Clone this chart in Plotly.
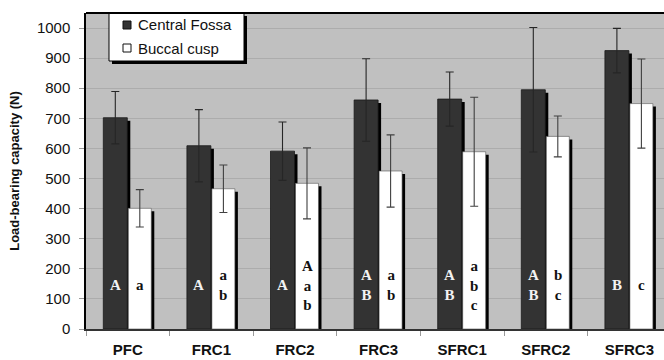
import plotly.graph_objects as go

categories = ["PFC", "FRC1", "FRC2", "FRC3", "SFRC1", "SFRC2", "SFRC3"]
central_fossa = [702, 609, 591, 761, 764, 795, 925]
central_err = [87, 120, 97, 137, 90, 207, 74]
buccal_cusp = [401, 466, 484, 525, 589, 640, 749]
buccal_err = [62, 79, 118, 120, 181, 68, 148]
central_letters = ["A", "A", "A", "A\nB", "A\nB", "A\nB", "B"]
buccal_letters = ["a", "a\nb", "A\na\nb", "a\nb", "a\nb\nc", "b\nc", "c"]
y_ticks = list(range(0, 1001, 100))

W, H = 664, 360
ML, MR, MT, MB = 86, 0, 13, 31
PW, PH = W - ML - MR, H - MT - MB
YMAX = 1050
ncat = len(categories)
cat_px = 83.6
xmax = -0.5 + PW / cat_px

dark_off, dark_w = -0.293, 0.287
white_off, white_w = 0.006, 0.275
sh_dx = 3 / cat_px
sh_dy = 3 * YMAX / PH

fig = go.Figure()

fig.add_trace(go.Bar(x=categories, y=[v - sh_dy for v in central_fossa],
                     offset=dark_off + sh_dx, width=dark_w,
                     marker=dict(color="#000000", line=dict(width=0)),
                     showlegend=False, hoverinfo="skip"))
fig.add_trace(go.Bar(x=categories, y=central_fossa, name="Central Fossa",
                     offset=dark_off, width=dark_w,
                     marker=dict(color="#333333", line=dict(color="#1a1a1a", width=0.8)),
                     error_y=dict(type="data", array=central_err, visible=True,
                                  color="#262626", thickness=1.1, width=4)))
fig.add_trace(go.Bar(x=categories, y=[v - sh_dy for v in buccal_cusp],
                     offset=white_off + sh_dx, width=white_w,
                     marker=dict(color="#000000", line=dict(width=0)),
                     showlegend=False, hoverinfo="skip"))
fig.add_trace(go.Bar(x=categories, y=buccal_cusp, name="Buccal cusp",
                     offset=white_off, width=white_w,
                     marker=dict(color="#ffffff", line=dict(color="#555555", width=0.6)),
                     error_y=dict(type="data", array=buccal_err, visible=True,
                                  color="#404040", thickness=1.1, width=4)))

annotations = []
letter_y = 146
for i in range(ncat):
    annotations.append(dict(x=i + dark_off + dark_w / 2, y=letter_y, xref="x", yref="y",
                            text=central_letters[i].replace("\n", "<br>"), showarrow=False,
                            font=dict(family="Liberation Serif", size=15, color="#f2f2f2",
                                      weight="bold"),
                            xanchor="center", yanchor="middle"))
    annotations.append(dict(x=i + white_off + white_w / 2, y=letter_y, xref="x", yref="y",
                            text=buccal_letters[i].replace("\n", "<br>"), showarrow=False,
                            font=dict(family="Liberation Serif", size=15, color="#111111",
                                      weight="bold"),
                            xanchor="center", yanchor="middle"))

def px2paper(px, py):
    return (px - ML) / PW, (H - MB - py) / PH

lx0, ly0 = px2paper(109, 13)
lx1, ly1 = px2paper(244, 61)
sx0, sy0 = px2paper(112, 16)
sx1, sy1 = px2paper(247, 64)
shapes = [
    dict(type="rect", xref="paper", yref="paper", x0=sx0, y0=sy1, x1=sx1, y1=sy0,
         fillcolor="#000000", line=dict(width=0), layer="above"),
    dict(type="rect", xref="paper", yref="paper", x0=lx0, y0=ly1, x1=lx1, y1=ly0,
         fillcolor="#ffffff", line=dict(color="#000000", width=1), layer="above"),
]
legend_items = [("Central Fossa", "#333333", 25), ("Buccal cusp", "#ffffff", 48)]
for name, col, cy in legend_items:
    a0 = px2paper(123, cy - 4)
    a1 = px2paper(131, cy + 4)
    shapes.append(dict(type="rect", xref="paper", yref="paper", x0=a0[0], y0=a1[1],
                       x1=a1[0], y1=a0[1], fillcolor=col,
                       line=dict(color="#111111", width=1), layer="above"))
    tp = px2paper(136, cy)
    annotations.append(dict(x=tp[0], y=tp[1], xref="paper", yref="paper", text=name,
                            showarrow=False, xanchor="left", yanchor="middle",
                            font=dict(family="Liberation Sans", size=15, color="#111111")))

shapes.append(dict(type="line", xref="paper", yref="paper", x0=0, x1=1, y0=1, y1=1,
                   line=dict(color="#000000", width=2), layer="above"))

fig.update_layout(
    width=W, height=H,
    margin=dict(l=ML, r=MR, t=MT, b=MB, pad=0),
    paper_bgcolor="#ffffff", plot_bgcolor="#c0c0c0",
    barmode="overlay", showlegend=False,
    font=dict(family="Liberation Sans", color="#111111"),
    annotations=annotations, shapes=shapes,
)
fig.update_xaxes(type="category", range=[-0.5, xmax], tickson="boundaries",
                 ticks="outside", ticklen=5, tickcolor="#999999",
                 showline=True, linecolor="#333333", linewidth=1.5,
                 showgrid=False, zeroline=False,
                 tickfont=dict(family="Liberation Sans", size=15, color="#111111", weight="bold"),
                 ticklabelstandoff=6)
fig.update_yaxes(range=[0, YMAX], tickvals=y_ticks, ticks="outside", ticklen=5,
                 tickcolor="#999999", showline=True, linecolor="#000000", linewidth=1.5,
                 showgrid=True, gridcolor="#acacac", gridwidth=1, zeroline=False,
                 tickfont=dict(family="Liberation Sans", size=15, color="#111111"),
                 ticklabelstandoff=6,
                 title=dict(text="Load-bearing capacity (N)", standoff=14,
                            font=dict(family="Liberation Sans", size=13, color="#111111",
                                      weight="bold")))

fig.write_html("out.html", config={"displayModeBar": False},
               post_script="document.body.style.margin='0px';document.body.style.overflow='hidden';")
